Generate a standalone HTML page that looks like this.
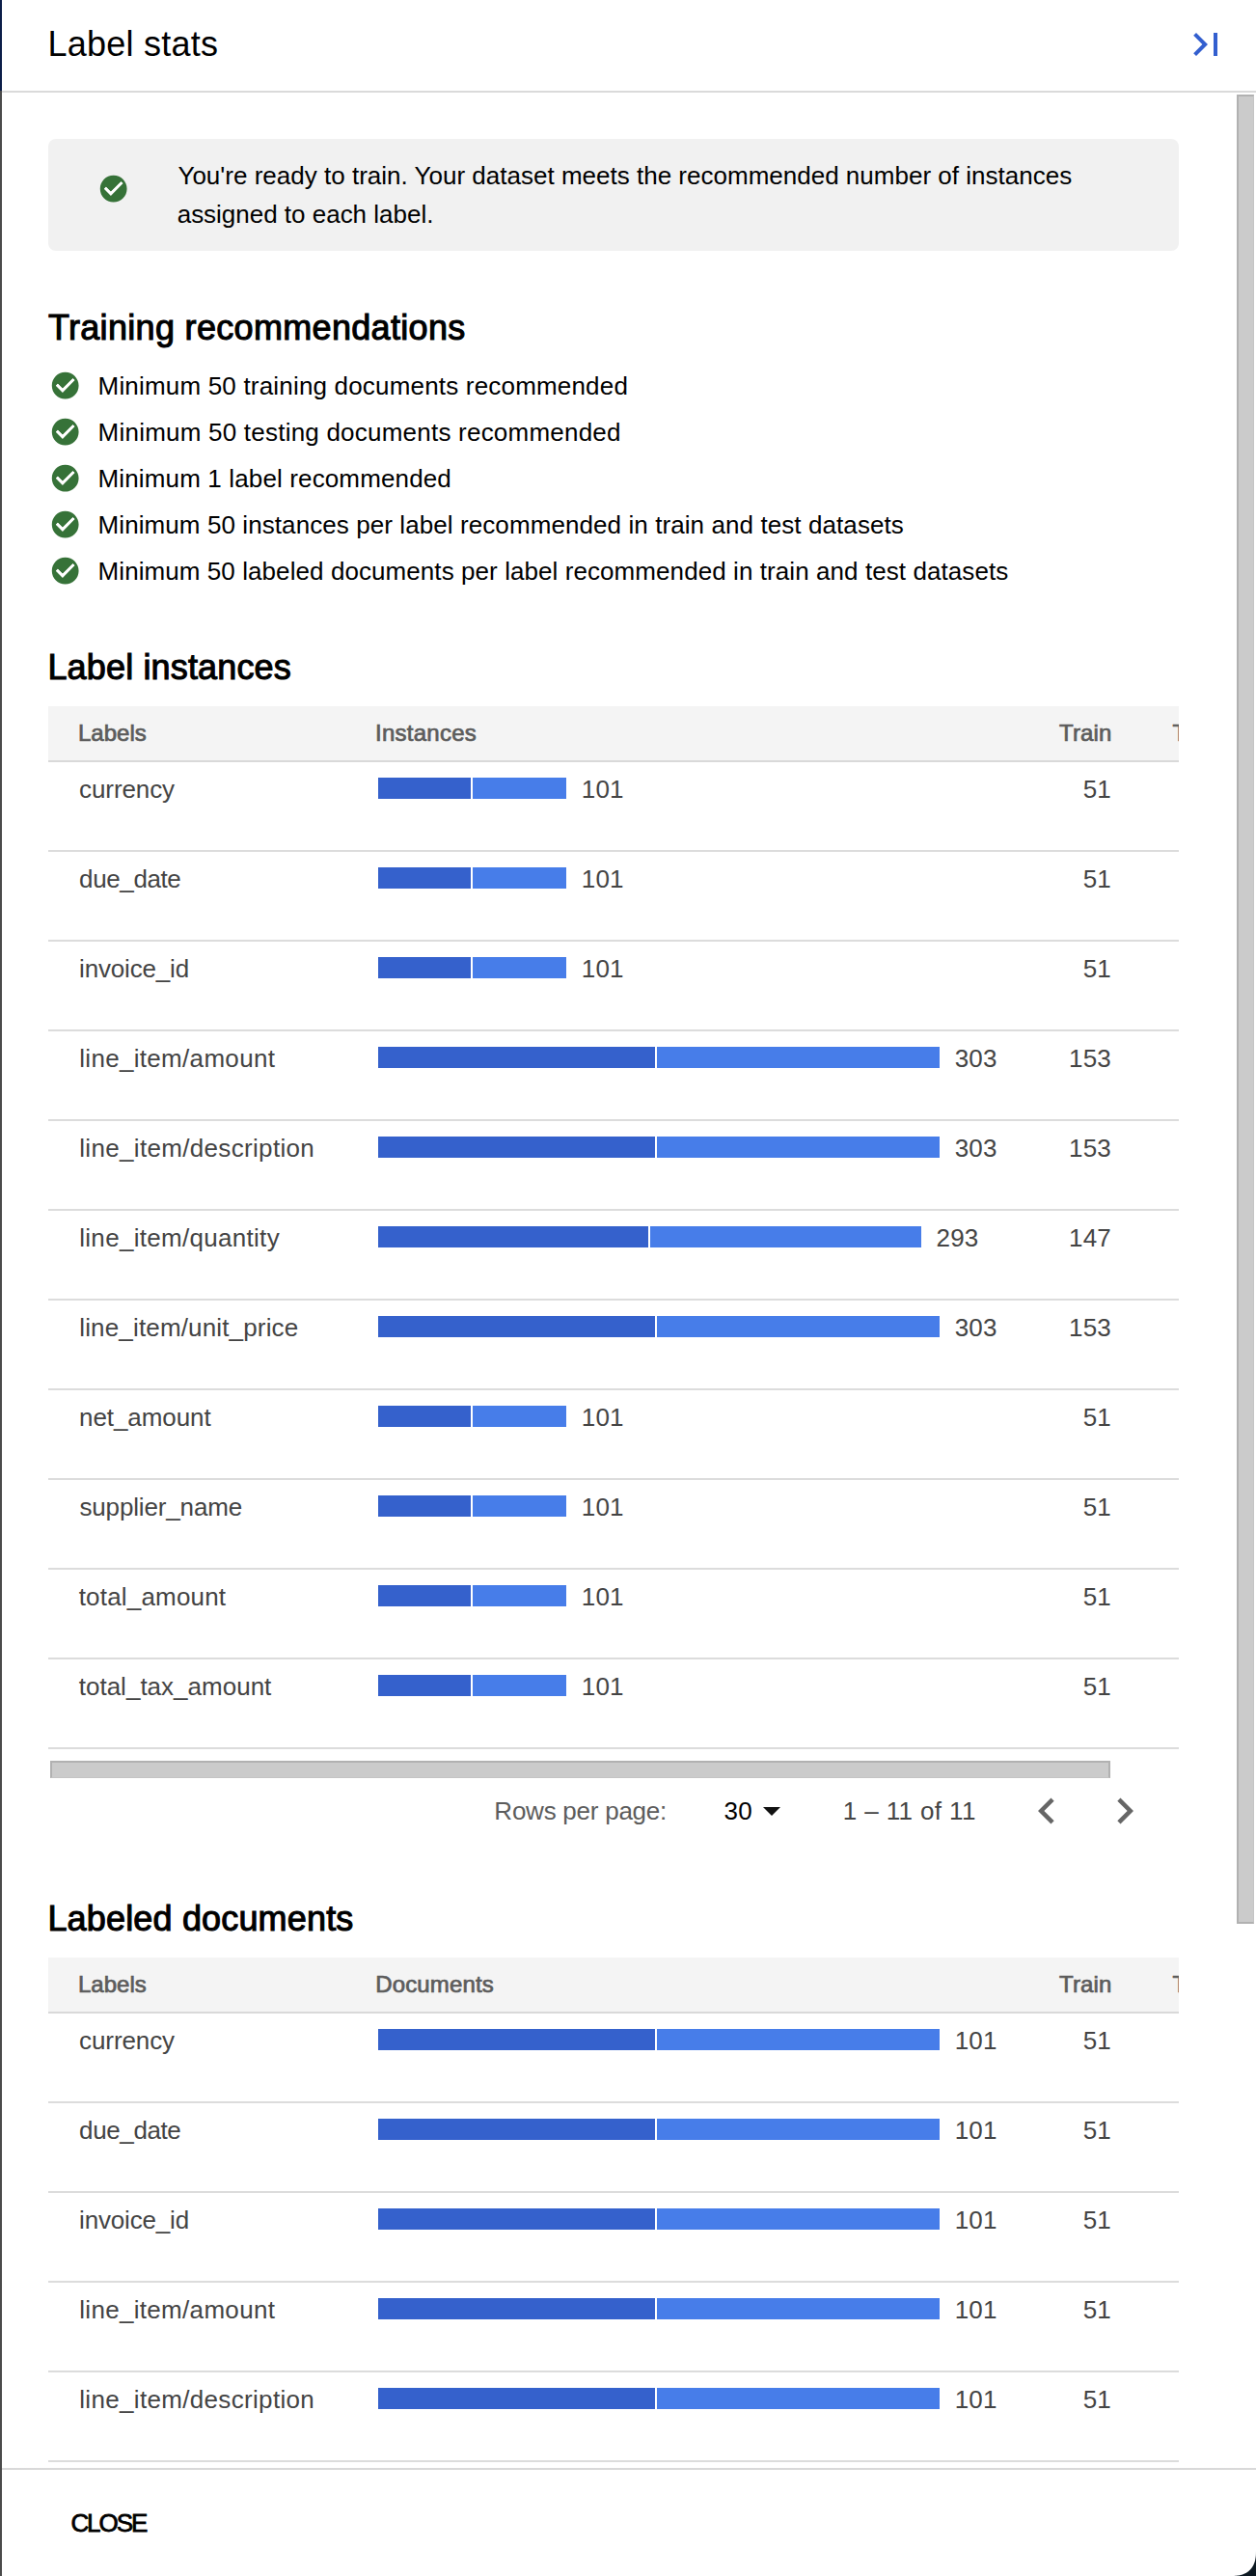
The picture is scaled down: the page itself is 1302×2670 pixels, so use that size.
<!DOCTYPE html>
<html lang="en"><head><meta charset="utf-8"><title>Label stats</title>
<style>
html,body{margin:0;padding:0;background:#fff;}
body{width:1302px;height:2670px;position:relative;overflow:hidden;font-family:"Liberation Sans", Arial, sans-serif;}
h1,h2,p,ul,li{margin:0;padding:0;font-weight:400;}
ul{list-style:none;}
.t{position:absolute;white-space:nowrap;}
.r{position:absolute;}
.ic{position:absolute;display:block;}
.clip{position:absolute;overflow:hidden;}
.icon-btn{position:absolute;padding:0;margin:0;border:0;background:transparent;display:block;}
.icon-btn svg{display:block;}
button.t{padding:0;margin:0;border:0;background:transparent;font-family:inherit;}
</style></head><body>
<div class="backdrop">
<div class="r" style="left:0px;top:0px;width:2px;height:94px;background:#0c1e49;"></div>
<div class="r" style="left:0px;top:94px;width:2px;height:2576px;background:#4b4b4b;"></div>
</div>
<aside class="panel" aria-label="Label stats">
<header class="panel-header">
<h1 class="t" style="left:49.45px;top:26.20px;font-size:36px;line-height:40px;color:#000;letter-spacing:0.243px;">Label stats</h1>
<button class="icon-btn" style="left:1226px;top:22px;width:48px;height:48px" aria-label="Collapse panel"><svg viewBox="0 0 24 24" width="48" height="48"><path fill="#335fcf" d="M5.59 7.41L10.18 12l-4.59 4.59L7 18l6-6-6-6zM16 6h2v12h-2z"/></svg></button>
<div class="r" style="left:2px;top:94px;width:1300px;height:2px;background:#dadada;"></div>
</header>
<main class="panel-content">
<div class="r" style="left:1282px;top:98px;width:15px;height:1892px;background:#cbcbcb;border:2px solid #b1b1b1;border-right:1px solid #c4c4c4"></div>
<div class="banner" role="status">
<div class="r" style="left:50px;top:144px;width:1172px;height:116px;background:#f1f1f1;border-radius:8px;"></div>
<svg class="ic" style="left:101.32px;top:179.32px;width:33.36px;height:33.36px" viewBox="0 0 24 24" aria-hidden="true"><path fill="#367238" d="M12 2C6.48 2 2 6.48 2 12s4.48 10 10 10 10-4.48 10-10S17.52 2 12 2zm-2 15l-5-5 1.41-1.41L10 14.17l7.59-7.59L19 8l-9 9z"/><path fill="#fff" d="M10 17l-5-5 1.41-1.41L10 14.17l7.59-7.59L19 8z"/></svg>
<p class="t" style="left:184.43px;top:162.00px;font-size:26px;line-height:40px;color:#000;letter-spacing:0.008px;">You&#x27;re ready to train. Your dataset meets the recommended number of instances</p>
<p class="t" style="left:183.70px;top:202.00px;font-size:26px;line-height:40px;color:#000;letter-spacing:-0.013px;">assigned to each label.</p>
</div>
<section class="recs">
<h2 class="t" style="left:49.99px;top:320.00px;font-size:36px;line-height:40px;color:#000;letter-spacing:0.323px;-webkit-text-stroke:1.08px #000;">Training recommendations</h2>
<ul class="reclist">
<li>
<svg class="ic" style="left:51.32px;top:383.32px;width:33.36px;height:33.36px" viewBox="0 0 24 24" aria-hidden="true"><path fill="#367238" d="M12 2C6.48 2 2 6.48 2 12s4.48 10 10 10 10-4.48 10-10S17.52 2 12 2zm-2 15l-5-5 1.41-1.41L10 14.17l7.59-7.59L19 8l-9 9z"/><path fill="#fff" d="M10 17l-5-5 1.41-1.41L10 14.17l7.59-7.59L19 8z"/></svg>
<span class="t" style="left:101.57px;top:380.00px;font-size:26px;line-height:40px;color:#000;letter-spacing:0.185px;">Minimum 50 training documents recommended</span>
</li>
<li>
<svg class="ic" style="left:51.32px;top:431.32px;width:33.36px;height:33.36px" viewBox="0 0 24 24" aria-hidden="true"><path fill="#367238" d="M12 2C6.48 2 2 6.48 2 12s4.48 10 10 10 10-4.48 10-10S17.52 2 12 2zm-2 15l-5-5 1.41-1.41L10 14.17l7.59-7.59L19 8l-9 9z"/><path fill="#fff" d="M10 17l-5-5 1.41-1.41L10 14.17l7.59-7.59L19 8z"/></svg>
<span class="t" style="left:101.57px;top:428.00px;font-size:26px;line-height:40px;color:#000;letter-spacing:0.223px;">Minimum 50 testing documents recommended</span>
</li>
<li>
<svg class="ic" style="left:51.32px;top:479.32px;width:33.36px;height:33.36px" viewBox="0 0 24 24" aria-hidden="true"><path fill="#367238" d="M12 2C6.48 2 2 6.48 2 12s4.48 10 10 10 10-4.48 10-10S17.52 2 12 2zm-2 15l-5-5 1.41-1.41L10 14.17l7.59-7.59L19 8l-9 9z"/><path fill="#fff" d="M10 17l-5-5 1.41-1.41L10 14.17l7.59-7.59L19 8z"/></svg>
<span class="t" style="left:101.57px;top:476.00px;font-size:26px;line-height:40px;color:#000;letter-spacing:0.136px;">Minimum 1 label recommended</span>
</li>
<li>
<svg class="ic" style="left:51.32px;top:527.32px;width:33.36px;height:33.36px" viewBox="0 0 24 24" aria-hidden="true"><path fill="#367238" d="M12 2C6.48 2 2 6.48 2 12s4.48 10 10 10 10-4.48 10-10S17.52 2 12 2zm-2 15l-5-5 1.41-1.41L10 14.17l7.59-7.59L19 8l-9 9z"/><path fill="#fff" d="M10 17l-5-5 1.41-1.41L10 14.17l7.59-7.59L19 8z"/></svg>
<span class="t" style="left:101.57px;top:524.00px;font-size:26px;line-height:40px;color:#000;letter-spacing:0.084px;">Minimum 50 instances per label recommended in train and test datasets</span>
</li>
<li>
<svg class="ic" style="left:51.32px;top:575.32px;width:33.36px;height:33.36px" viewBox="0 0 24 24" aria-hidden="true"><path fill="#367238" d="M12 2C6.48 2 2 6.48 2 12s4.48 10 10 10 10-4.48 10-10S17.52 2 12 2zm-2 15l-5-5 1.41-1.41L10 14.17l7.59-7.59L19 8l-9 9z"/><path fill="#fff" d="M10 17l-5-5 1.41-1.41L10 14.17l7.59-7.59L19 8z"/></svg>
<span class="t" style="left:101.57px;top:572.00px;font-size:26px;line-height:40px;color:#000;letter-spacing:0.075px;">Minimum 50 labeled documents per label recommended in train and test datasets</span>
</li>
</ul>
</section>
<section class="stats">
<h2 class="t" style="left:49.45px;top:672.00px;font-size:36px;line-height:40px;color:#000;letter-spacing:0.156px;-webkit-text-stroke:1.08px #000;">Label instances</h2>
<div class="tbl" role="table">
<div class="thead" role="row">
<div class="r" style="left:50px;top:732px;width:1172px;height:56px;background:#f4f4f4;"></div>
<div class="r" style="left:50px;top:788px;width:1172px;height:2px;background:#d9d9d9;"></div>
<div class="t th" style="left:81.03px;top:740.00px;font-size:24px;line-height:40px;color:#5c5c5c;letter-spacing:0.009px;-webkit-text-stroke:0.72px #5c5c5c;">Labels</div>
<div class="t th" style="left:389.09px;top:740.00px;font-size:24px;line-height:40px;color:#5c5c5c;letter-spacing:0.241px;-webkit-text-stroke:0.72px #5c5c5c;">Instances</div>
<div class="t th" style="left:1098.05px;top:740.00px;font-size:24px;line-height:40px;color:#5c5c5c;letter-spacing:0.152px;-webkit-text-stroke:0.72px #5c5c5c;">Train</div>
<div class="clip" style="left:1200px;top:732px;width:22px;height:56px">
<div class="t th" style="left:15.46px;top:8.00px;font-size:24px;line-height:40px;color:#5c5c5c;letter-spacing:0.749px;-webkit-text-stroke:0.72px #5c5c5c;">Test</div>
</div>
</div>
<div class="tr" role="row">
<div class="t td" style="left:82.08px;top:798.00px;font-size:26px;line-height:40px;color:#444;letter-spacing:-0.094px;">currency</div>
<div class="r bar" style="left:392px;top:806px;width:95.78px;height:22px;background:#3561cc;"></div>
<div class="r bar" style="left:489.78px;top:806px;width:97.69px;height:22px;background:#477de9;"></div>
<div class="t td num" style="left:602.77px;top:798.00px;font-size:26px;line-height:40px;color:#444;letter-spacing:0.151px;">101</div>
<div class="t td num" style="left:1122.67px;top:798.00px;font-size:26px;line-height:40px;color:#444;letter-spacing:0.156px;">51</div>
<div class="r" style="left:50px;top:881px;width:1172px;height:2px;background:#dcdcdc;"></div>
</div>
<div class="tr" role="row">
<div class="t td" style="left:82.11px;top:891.00px;font-size:26px;line-height:40px;color:#444;letter-spacing:-0.391px;">due_date</div>
<div class="r bar" style="left:392px;top:899px;width:95.78px;height:22px;background:#3561cc;"></div>
<div class="r bar" style="left:489.78px;top:899px;width:97.69px;height:22px;background:#477de9;"></div>
<div class="t td num" style="left:602.77px;top:891.00px;font-size:26px;line-height:40px;color:#444;letter-spacing:0.151px;">101</div>
<div class="t td num" style="left:1122.67px;top:891.00px;font-size:26px;line-height:40px;color:#444;letter-spacing:0.156px;">51</div>
<div class="r" style="left:50px;top:974px;width:1172px;height:2px;background:#dcdcdc;"></div>
</div>
<div class="tr" role="row">
<div class="t td" style="left:82.06px;top:984.00px;font-size:26px;line-height:40px;color:#444;letter-spacing:-0.169px;">invoice_id</div>
<div class="r bar" style="left:392px;top:992px;width:95.78px;height:22px;background:#3561cc;"></div>
<div class="r bar" style="left:489.78px;top:992px;width:97.69px;height:22px;background:#477de9;"></div>
<div class="t td num" style="left:602.77px;top:984.00px;font-size:26px;line-height:40px;color:#444;letter-spacing:0.151px;">101</div>
<div class="t td num" style="left:1122.67px;top:984.00px;font-size:26px;line-height:40px;color:#444;letter-spacing:0.156px;">51</div>
<div class="r" style="left:50px;top:1067px;width:1172px;height:2px;background:#dcdcdc;"></div>
</div>
<div class="tr" role="row">
<div class="t td" style="left:82.23px;top:1077.00px;font-size:26px;line-height:40px;color:#444;letter-spacing:0.313px;">line_item/amount</div>
<div class="r bar" style="left:392px;top:1085px;width:287.33px;height:22px;background:#3561cc;"></div>
<div class="r bar" style="left:681.33px;top:1085px;width:293.07px;height:22px;background:#477de9;"></div>
<div class="t td num" style="left:989.70px;top:1077.00px;font-size:26px;line-height:40px;color:#444;letter-spacing:0.151px;">303</div>
<div class="t td num" style="left:1108.06px;top:1077.00px;font-size:26px;line-height:40px;color:#444;letter-spacing:0.151px;">153</div>
<div class="r" style="left:50px;top:1160px;width:1172px;height:2px;background:#dcdcdc;"></div>
</div>
<div class="tr" role="row">
<div class="t td" style="left:82.23px;top:1170.00px;font-size:26px;line-height:40px;color:#444;letter-spacing:0.329px;">line_item/description</div>
<div class="r bar" style="left:392px;top:1178px;width:287.33px;height:22px;background:#3561cc;"></div>
<div class="r bar" style="left:681.33px;top:1178px;width:293.07px;height:22px;background:#477de9;"></div>
<div class="t td num" style="left:989.70px;top:1170.00px;font-size:26px;line-height:40px;color:#444;letter-spacing:0.151px;">303</div>
<div class="t td num" style="left:1108.06px;top:1170.00px;font-size:26px;line-height:40px;color:#444;letter-spacing:0.151px;">153</div>
<div class="r" style="left:50px;top:1253px;width:1172px;height:2px;background:#dcdcdc;"></div>
</div>
<div class="tr" role="row">
<div class="t td" style="left:82.23px;top:1263.00px;font-size:26px;line-height:40px;color:#444;letter-spacing:0.299px;">line_item/quantity</div>
<div class="r bar" style="left:392px;top:1271px;width:279.66px;height:22px;background:#3561cc;"></div>
<div class="r bar" style="left:673.66px;top:1271px;width:281.58px;height:22px;background:#477de9;"></div>
<div class="t td num" style="left:970.54px;top:1263.00px;font-size:26px;line-height:40px;color:#444;letter-spacing:0.151px;">293</div>
<div class="t td num" style="left:1108.06px;top:1263.00px;font-size:26px;line-height:40px;color:#444;letter-spacing:0.151px;">147</div>
<div class="r" style="left:50px;top:1346px;width:1172px;height:2px;background:#dcdcdc;"></div>
</div>
<div class="tr" role="row">
<div class="t td" style="left:82.23px;top:1356.00px;font-size:26px;line-height:40px;color:#444;letter-spacing:0.158px;">line_item/unit_price</div>
<div class="r bar" style="left:392px;top:1364px;width:287.33px;height:22px;background:#3561cc;"></div>
<div class="r bar" style="left:681.33px;top:1364px;width:293.07px;height:22px;background:#477de9;"></div>
<div class="t td num" style="left:989.70px;top:1356.00px;font-size:26px;line-height:40px;color:#444;letter-spacing:0.151px;">303</div>
<div class="t td num" style="left:1108.06px;top:1356.00px;font-size:26px;line-height:40px;color:#444;letter-spacing:0.151px;">153</div>
<div class="r" style="left:50px;top:1439px;width:1172px;height:2px;background:#dcdcdc;"></div>
</div>
<div class="tr" role="row">
<div class="t td" style="left:82.06px;top:1449.00px;font-size:26px;line-height:40px;color:#444;letter-spacing:-0.083px;">net_amount</div>
<div class="r bar" style="left:392px;top:1457px;width:95.78px;height:22px;background:#3561cc;"></div>
<div class="r bar" style="left:489.78px;top:1457px;width:97.69px;height:22px;background:#477de9;"></div>
<div class="t td num" style="left:602.77px;top:1449.00px;font-size:26px;line-height:40px;color:#444;letter-spacing:0.151px;">101</div>
<div class="t td num" style="left:1122.67px;top:1449.00px;font-size:26px;line-height:40px;color:#444;letter-spacing:0.156px;">51</div>
<div class="r" style="left:50px;top:1532px;width:1172px;height:2px;background:#dcdcdc;"></div>
</div>
<div class="tr" role="row">
<div class="t td" style="left:82.48px;top:1542.00px;font-size:26px;line-height:40px;color:#444;letter-spacing:-0.152px;">supplier_name</div>
<div class="r bar" style="left:392px;top:1550px;width:95.78px;height:22px;background:#3561cc;"></div>
<div class="r bar" style="left:489.78px;top:1550px;width:97.69px;height:22px;background:#477de9;"></div>
<div class="t td num" style="left:602.77px;top:1542.00px;font-size:26px;line-height:40px;color:#444;letter-spacing:0.151px;">101</div>
<div class="t td num" style="left:1122.67px;top:1542.00px;font-size:26px;line-height:40px;color:#444;letter-spacing:0.156px;">51</div>
<div class="r" style="left:50px;top:1625px;width:1172px;height:2px;background:#dcdcdc;"></div>
</div>
<div class="tr" role="row">
<div class="t td" style="left:81.72px;top:1635.00px;font-size:26px;line-height:40px;color:#444;letter-spacing:0.181px;">total_amount</div>
<div class="r bar" style="left:392px;top:1643px;width:95.78px;height:22px;background:#3561cc;"></div>
<div class="r bar" style="left:489.78px;top:1643px;width:97.69px;height:22px;background:#477de9;"></div>
<div class="t td num" style="left:602.77px;top:1635.00px;font-size:26px;line-height:40px;color:#444;letter-spacing:0.151px;">101</div>
<div class="t td num" style="left:1122.67px;top:1635.00px;font-size:26px;line-height:40px;color:#444;letter-spacing:0.156px;">51</div>
<div class="r" style="left:50px;top:1718px;width:1172px;height:2px;background:#dcdcdc;"></div>
</div>
<div class="tr" role="row">
<div class="t td" style="left:81.72px;top:1728.00px;font-size:26px;line-height:40px;color:#444;letter-spacing:0.009px;">total_tax_amount</div>
<div class="r bar" style="left:392px;top:1736px;width:95.78px;height:22px;background:#3561cc;"></div>
<div class="r bar" style="left:489.78px;top:1736px;width:97.69px;height:22px;background:#477de9;"></div>
<div class="t td num" style="left:602.77px;top:1728.00px;font-size:26px;line-height:40px;color:#444;letter-spacing:0.151px;">101</div>
<div class="t td num" style="left:1122.67px;top:1728.00px;font-size:26px;line-height:40px;color:#444;letter-spacing:0.156px;">51</div>
<div class="r" style="left:50px;top:1811px;width:1172px;height:2px;background:#dcdcdc;"></div>
</div>
</div>
</section>
<div class="r" style="left:52px;top:1825px;width:1095px;height:15px;background:#cbcbcb;border:2px solid #b1b1b1;border-bottom:1px solid #c4c4c4"></div>
<nav class="paginator" aria-label="Pagination">
<div class="t" style="left:512.37px;top:1857.00px;font-size:26px;line-height:40px;color:#5c5c5c;letter-spacing:-0.246px;">Rows per page:</div>
<div class="t" style="left:750.61px;top:1857.00px;font-size:26px;line-height:40px;color:#000;letter-spacing:0.084px;">30</div>
<svg class="ic" style="left:791px;top:1873px;width:18px;height:9px" viewBox="0 0 18 9" aria-hidden="true"><path d="M0 0h18L9 9z" fill="#111"/></svg>
<div class="t" style="left:873.72px;top:1857.00px;font-size:26px;line-height:40px;color:#444;letter-spacing:0.388px;">1 – 11 of 11</div>
<button class="icon-btn" style="left:1058.2px;top:1850px;width:54px;height:54px" aria-label="Previous page"><svg viewBox="0 0 24 24" width="54" height="54"><path fill="#666" d="M15.41 7.41L14 6l-6 6 6 6 1.41-1.41L10.83 12z"/></svg></button>
<button class="icon-btn" style="left:1138.5px;top:1850px;width:54px;height:54px" aria-label="Next page"><svg viewBox="0 0 24 24" width="54" height="54"><path fill="#666" d="M10 6L8.59 7.41 13.17 12l-4.58 4.59L10 18l6-6z"/></svg></button>
</nav>
<section class="stats">
<h2 class="t" style="left:49.45px;top:1969.00px;font-size:36px;line-height:40px;color:#000;letter-spacing:0.165px;-webkit-text-stroke:1.08px #000;">Labeled documents</h2>
<div class="tbl" role="table">
<div class="thead" role="row">
<div class="r" style="left:50px;top:2029px;width:1172px;height:56px;background:#f4f4f4;"></div>
<div class="r" style="left:50px;top:2085px;width:1172px;height:2px;background:#d9d9d9;"></div>
<div class="t th" style="left:81.03px;top:2037.00px;font-size:24px;line-height:40px;color:#5c5c5c;letter-spacing:0.009px;-webkit-text-stroke:0.72px #5c5c5c;">Labels</div>
<div class="t th" style="left:389.16px;top:2037.00px;font-size:24px;line-height:40px;color:#5c5c5c;letter-spacing:0.162px;-webkit-text-stroke:0.72px #5c5c5c;">Documents</div>
<div class="t th" style="left:1098.05px;top:2037.00px;font-size:24px;line-height:40px;color:#5c5c5c;letter-spacing:0.152px;-webkit-text-stroke:0.72px #5c5c5c;">Train</div>
<div class="clip" style="left:1200px;top:2029px;width:22px;height:56px">
<div class="t th" style="left:15.46px;top:8.00px;font-size:24px;line-height:40px;color:#5c5c5c;letter-spacing:0.749px;-webkit-text-stroke:0.72px #5c5c5c;">Test</div>
</div>
</div>
<div class="tr" role="row">
<div class="t td" style="left:82.08px;top:2095.00px;font-size:26px;line-height:40px;color:#444;letter-spacing:-0.094px;">currency</div>
<div class="r bar" style="left:392px;top:2103px;width:287.33px;height:22px;background:#3561cc;"></div>
<div class="r bar" style="left:681.33px;top:2103px;width:293.07px;height:22px;background:#477de9;"></div>
<div class="t td num" style="left:989.70px;top:2095.00px;font-size:26px;line-height:40px;color:#444;letter-spacing:0.151px;">101</div>
<div class="t td num" style="left:1122.67px;top:2095.00px;font-size:26px;line-height:40px;color:#444;letter-spacing:0.156px;">51</div>
<div class="r" style="left:50px;top:2178px;width:1172px;height:2px;background:#dcdcdc;"></div>
</div>
<div class="tr" role="row">
<div class="t td" style="left:82.11px;top:2188.00px;font-size:26px;line-height:40px;color:#444;letter-spacing:-0.391px;">due_date</div>
<div class="r bar" style="left:392px;top:2196px;width:287.33px;height:22px;background:#3561cc;"></div>
<div class="r bar" style="left:681.33px;top:2196px;width:293.07px;height:22px;background:#477de9;"></div>
<div class="t td num" style="left:989.70px;top:2188.00px;font-size:26px;line-height:40px;color:#444;letter-spacing:0.151px;">101</div>
<div class="t td num" style="left:1122.67px;top:2188.00px;font-size:26px;line-height:40px;color:#444;letter-spacing:0.156px;">51</div>
<div class="r" style="left:50px;top:2271px;width:1172px;height:2px;background:#dcdcdc;"></div>
</div>
<div class="tr" role="row">
<div class="t td" style="left:82.06px;top:2281.00px;font-size:26px;line-height:40px;color:#444;letter-spacing:-0.169px;">invoice_id</div>
<div class="r bar" style="left:392px;top:2289px;width:287.33px;height:22px;background:#3561cc;"></div>
<div class="r bar" style="left:681.33px;top:2289px;width:293.07px;height:22px;background:#477de9;"></div>
<div class="t td num" style="left:989.70px;top:2281.00px;font-size:26px;line-height:40px;color:#444;letter-spacing:0.151px;">101</div>
<div class="t td num" style="left:1122.67px;top:2281.00px;font-size:26px;line-height:40px;color:#444;letter-spacing:0.156px;">51</div>
<div class="r" style="left:50px;top:2364px;width:1172px;height:2px;background:#dcdcdc;"></div>
</div>
<div class="tr" role="row">
<div class="t td" style="left:82.23px;top:2374.00px;font-size:26px;line-height:40px;color:#444;letter-spacing:0.313px;">line_item/amount</div>
<div class="r bar" style="left:392px;top:2382px;width:287.33px;height:22px;background:#3561cc;"></div>
<div class="r bar" style="left:681.33px;top:2382px;width:293.07px;height:22px;background:#477de9;"></div>
<div class="t td num" style="left:989.70px;top:2374.00px;font-size:26px;line-height:40px;color:#444;letter-spacing:0.151px;">101</div>
<div class="t td num" style="left:1122.67px;top:2374.00px;font-size:26px;line-height:40px;color:#444;letter-spacing:0.156px;">51</div>
<div class="r" style="left:50px;top:2457px;width:1172px;height:2px;background:#dcdcdc;"></div>
</div>
<div class="tr" role="row">
<div class="t td" style="left:82.23px;top:2467.00px;font-size:26px;line-height:40px;color:#444;letter-spacing:0.329px;">line_item/description</div>
<div class="r bar" style="left:392px;top:2475px;width:287.33px;height:22px;background:#3561cc;"></div>
<div class="r bar" style="left:681.33px;top:2475px;width:293.07px;height:22px;background:#477de9;"></div>
<div class="t td num" style="left:989.70px;top:2467.00px;font-size:26px;line-height:40px;color:#444;letter-spacing:0.151px;">101</div>
<div class="t td num" style="left:1122.67px;top:2467.00px;font-size:26px;line-height:40px;color:#444;letter-spacing:0.156px;">51</div>
<div class="r" style="left:50px;top:2550px;width:1172px;height:2px;background:#dcdcdc;"></div>
</div>
</div>
</section>
</main>
<footer class="panel-footer">
<div class="r" style="left:2px;top:2558px;width:1300px;height:112px;background:#fff;border-top:2px solid #d9d9d9;box-sizing:border-box"></div>
<button class="t btn" style="left:73.38px;top:2595.00px;font-size:26px;line-height:40px;color:#000;letter-spacing:-2.030px;-webkit-text-stroke:0.78px #000;">CLOSE</button>
</footer>
</aside>
<svg class="ic" style="left:1276px;top:2644px;width:26px;height:26px" viewBox="0 0 26 26" aria-hidden="true"><path fill="#0d1922" d="M26,0 L26.00,0.00 L25.98,1.95 L25.94,3.39 L25.86,4.69 L25.74,5.89 L25.60,7.03 L25.42,8.12 L25.22,9.16 L24.98,10.16 L24.71,11.13 L24.40,12.06 L24.07,12.96 L23.71,13.82 L23.31,14.66 L22.89,15.47 L22.43,16.25 L21.95,17.00 L21.43,17.72 L20.88,18.41 L20.31,19.07 L19.70,19.70 L19.07,20.31 L18.41,20.88 L17.72,21.43 L17.00,21.95 L16.25,22.43 L15.47,22.89 L14.66,23.31 L13.82,23.71 L12.96,24.07 L12.06,24.40 L11.13,24.71 L10.16,24.98 L9.16,25.22 L8.12,25.42 L7.03,25.60 L5.89,25.74 L4.69,25.86 L3.39,25.94 L1.95,25.98 L0.00,26.00 L0,26 L26,26 Z"/></svg>
</body></html>
